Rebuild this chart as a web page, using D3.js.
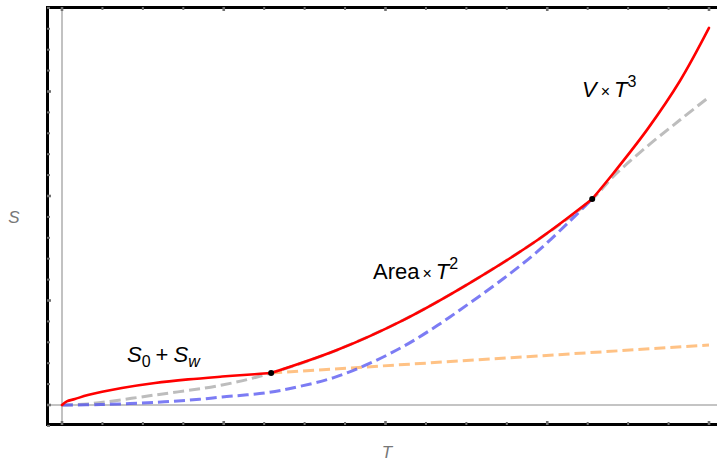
<!DOCTYPE html>
<html>
<head>
<meta charset="utf-8">
<script src="https://cdn.jsdelivr.net/npm/d3@7"></script>
<style>
  body { margin: 0; background: #fff; }
  svg { display: block; font-family: "Liberation Sans", Arial, sans-serif; }
</style>
</head>
<body>
<div id="chart"></div>
<script>
var
  width = 717,
  height = 461;

// entropy S against temperature T
var redLow = [[0, 0], [0.03, 0.035], [0.08, 0.057], [0.16, 0.096], [0.37, 0.163],
  [0.575, 0.211], [0.78, 0.245], [0.99, 0.272], [1.19, 0.295], [1.293, 0.306]];
var redMid = [[1.293, 0.306], [1.70, 0.526], [2.11, 0.813], [2.52, 1.167],
  [2.94, 1.579], [3.278, 1.971]];
var redHigh = [[3.278, 1.971], [3.41, 2.22], [3.62, 2.64], [3.82, 3.10], [4.0, 3.608]];
var grayLow = [[0, 0], [0.16, 0.01], [0.575, 0.096], [0.99, 0.191], [1.293, 0.306]];
var grayHigh = [[3.278, 1.971], [3.41, 2.19], [3.62, 2.478], [3.82, 2.727], [4.0, 2.947]];
var blue = [[0, 0], [0.24, 0.004], [0.575, 0.025], [0.85, 0.055], [0.99, 0.077],
  [1.27, 0.118], [1.47, 0.178], [1.68, 0.262], [1.89, 0.39], [2.11, 0.56],
  [2.32, 0.76], [2.52, 0.975], [2.73, 1.21], [2.94, 1.47], [3.14, 1.76], [3.278, 1.971]];
var orange = [[1.293, 0.306], [4.0, 0.574]];
var joints = [[1.293, 0.306], [3.278, 1.971]];

var xTicks = d3.range(0, 4.01, 0.25);
var yTicks = d3.range(-0.2, 3.81, 0.2);

var svg = d3.select("#chart")
  .append("svg")
  .attr("width", width)
  .attr("height", height);

var x = d3.scaleLinear().domain([0, 4]).range([62, 709]);
var y = d3.scaleLinear().domain([0, 1]).range([405, 300.5]);

var frame = { x0: 47.5, x1: 724, y0: 7.5, y1: 424.5 };

var line = d3.line()
  .x(function(d) { return x(d[0]); })
  .y(function(d) { return y(d[1]); })
  .curve(d3.curveCatmullRom.alpha(0.5));

// axes through the origin
svg.append("line")
  .attr("x1", frame.x0).attr("x2", frame.x1)
  .attr("y1", y(0)).attr("y2", y(0))
  .attr("stroke", "#b0b0b0").attr("stroke-width", 1.6);
svg.append("line")
  .attr("x1", x(0)).attr("x2", x(0))
  .attr("y1", frame.y0).attr("y2", frame.y1)
  .attr("stroke", "#999").attr("stroke-width", 1.2);

// dashed guide curves
svg.append("path").attr("d", line(grayLow.concat(redMid.slice(1), grayHigh.slice(1))))
  .attr("fill", "none").attr("stroke", "#bdbdbd").attr("stroke-width", 3)
  .attr("stroke-dasharray", "11,5");
svg.append("path").attr("d", line(orange))
  .attr("fill", "none").attr("stroke", "#ff9933").attr("stroke-opacity", 0.6)
  .attr("stroke-width", 3).attr("stroke-dasharray", "11,5");
svg.append("path").attr("d", line(blue))
  .attr("fill", "none").attr("stroke", "#5050f0").attr("stroke-opacity", 0.75)
  .attr("stroke-width", 3).attr("stroke-dasharray", "11,5");

// the actual S(T)
[redLow, redMid, redHigh].forEach(function(seg) {
  svg.append("path").attr("d", line(seg))
    .attr("fill", "none").attr("stroke", "#ff0000").attr("stroke-width", 2.6)
    .attr("stroke-linecap", "round");
});

svg.selectAll(".joint")
  .data(joints)
  .enter().append("circle")
  .attr("class", "joint")
  .attr("cx", function(d) { return x(d[0]); })
  .attr("cy", function(d) { return y(d[1]); })
  .attr("r", 3)
  .attr("fill", "#000");

// frame
svg.append("rect")
  .attr("x", frame.x0).attr("y", frame.y0)
  .attr("width", frame.x1 - frame.x0).attr("height", frame.y1 - frame.y0)
  .attr("fill", "none").attr("stroke", "#000").attr("stroke-width", 3);

// frame ticks, no labels
function isMajor(v) { return Math.abs(v - Math.round(v)) < 1e-6; }

svg.selectAll(".xtick")
  .data(xTicks.concat(xTicks))
  .enter().append("line")
  .attr("class", "xtick")
  .attr("x1", function(d) { return x(d); })
  .attr("x2", function(d) { return x(d); })
  .attr("y1", function(d, i) { return i < xTicks.length ? frame.y1 + 0.5 : frame.y0 - 0.5; })
  .attr("y2", function(d, i) {
    var len = isMajor(d) ? 3.5 : 2.5;
    return i < xTicks.length ? frame.y1 - len : frame.y0 + len;
  })
  .attr("stroke", "#707070")
  .attr("stroke-width", function(d) { return isMajor(d) ? 2.6 : 2; });

svg.selectAll(".ytick")
  .data(yTicks)
  .enter().append("line")
  .attr("class", "ytick")
  .attr("x1", frame.x0 - 0.5)
  .attr("x2", function(d) { return frame.x0 + (isMajor(d) ? 3.5 : 2.5); })
  .attr("y1", function(d) { return y(d); })
  .attr("y2", function(d) { return y(d); })
  .attr("stroke", "#707070")
  .attr("stroke-width", function(d) { return isMajor(d) ? 2.6 : 2; });

// axis labels
svg.append("text")
  .attr("x", 14).attr("y", 223)
  .attr("text-anchor", "middle")
  .attr("font-size", 17).attr("font-style", "italic").attr("fill", "#777")
  .text("S");
svg.append("text")
  .attr("x", 387).attr("y", 458)
  .attr("text-anchor", "middle")
  .attr("font-size", 17).attr("font-style", "italic").attr("fill", "#777")
  .text("T");

// region labels
var lab1 = svg.append("text").attr("x", 127).attr("y", 362).attr("font-size", 22);
lab1.append("tspan").attr("font-style", "italic").text("S");
lab1.append("tspan").attr("font-size", 16).attr("dy", 5).text("0");
lab1.append("tspan").attr("dx", 5).attr("dy", -5).text("+");
lab1.append("tspan").attr("dx", 5).attr("font-style", "italic").text("S");
lab1.append("tspan").attr("font-size", 16).attr("font-style", "italic").attr("dy", 5).text("w");

var lab2 = svg.append("text").attr("x", 373).attr("y", 279).attr("font-size", 22);
lab2.append("tspan").text("Area");
lab2.append("tspan").attr("font-size", 16).attr("dx", 3).text("\u00d7");
lab2.append("tspan").attr("dx", 4).attr("font-style", "italic").text("T");
lab2.append("tspan").attr("font-size", 16).attr("dy", -10).text("2");

var lab3 = svg.append("text").attr("x", 582).attr("y", 97).attr("font-size", 22);
lab3.append("tspan").attr("font-style", "italic").text("V");
lab3.append("tspan").attr("font-size", 16).attr("dx", 4).text("\u00d7");
lab3.append("tspan").attr("dx", 4).attr("font-style", "italic").text("T");
lab3.append("tspan").attr("font-size", 16).attr("dy", -10).text("3");
</script>
</body>
</html>
